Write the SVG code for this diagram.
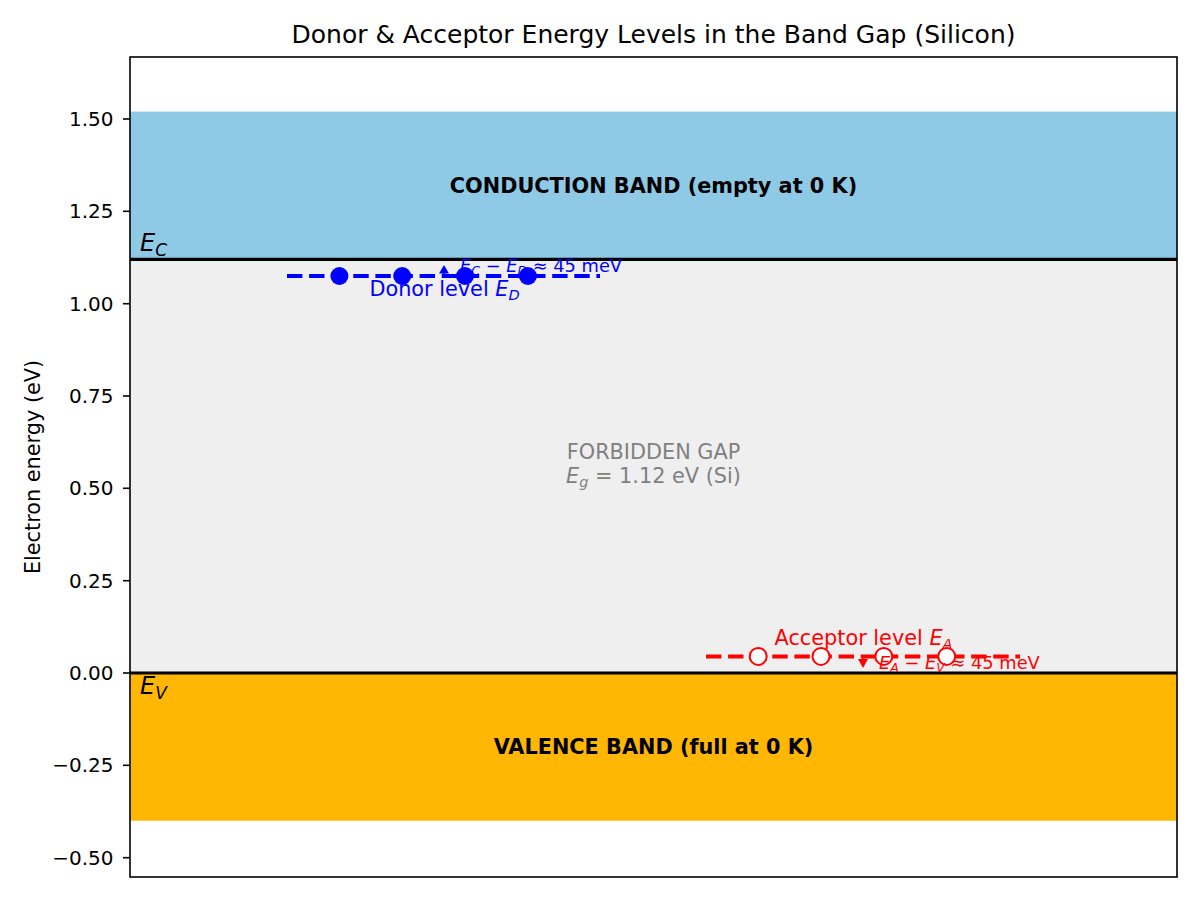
<svg xmlns="http://www.w3.org/2000/svg" width="1200" height="900" viewBox="0 0 1200 900">
<style>
text{font-family:"DejaVu Sans","Liberation Sans",sans-serif;}
.tick{font-size:20px;fill:#000;text-anchor:end;}
.band{font-size:20.8px;font-weight:bold;text-anchor:middle;fill:#000;}
.it{font-style:italic;}
.blue{fill:#0000ff;}
.red{fill:#ff0000;}
.ann{font-size:17.8px;}
.lbl{font-size:20.8px;}
</style>
<defs>
<clipPath id="ax"><rect x="130" y="57" width="1047" height="820"/></clipPath>
</defs>
<rect width="1200" height="900" fill="#fff"/>
<g id="bands" clip-path="url(#ax)">
<rect x="130" y="111.6" width="1047" height="147.7" fill="#8ecae6"/>
<rect x="130" y="259.3" width="1047" height="413.7" fill="#efefef"/>
<rect x="130" y="673" width="1047" height="147.7" fill="#ffb703"/>
<line x1="130" y1="259.3" x2="1177" y2="259.3" stroke="#000" stroke-width="3.2"/>
<line x1="130" y1="673" x2="1177" y2="673" stroke="#000" stroke-width="3.2"/>
</g>
<g id="axes">
<rect x="130" y="57" width="1047" height="820" fill="none" stroke="#000" stroke-width="1.6"/>
<g stroke="#000" stroke-width="1.6">
<line x1="123" y1="119" x2="130" y2="119"/>
<line x1="123" y1="211.3" x2="130" y2="211.3"/>
<line x1="123" y1="303.7" x2="130" y2="303.7"/>
<line x1="123" y1="396" x2="130" y2="396"/>
<line x1="123" y1="488.3" x2="130" y2="488.3"/>
<line x1="123" y1="580.7" x2="130" y2="580.7"/>
<line x1="123" y1="673" x2="130" y2="673"/>
<line x1="123" y1="765.3" x2="130" y2="765.3"/>
<line x1="123" y1="857.7" x2="130" y2="857.7"/>
</g>
<text class="tick" x="113.5" y="126">1.50</text>
<text class="tick" x="113.5" y="218.3">1.25</text>
<text class="tick" x="113.5" y="310.7">1.00</text>
<text class="tick" x="113.5" y="403">0.75</text>
<text class="tick" x="113.5" y="495.3">0.50</text>
<text class="tick" x="113.5" y="587.7">0.25</text>
<text class="tick" x="113.5" y="680">0.00</text>
<text class="tick" x="113.5" y="772.3">−0.25</text>
<text class="tick" x="113.5" y="864.7">−0.50</text>
<text x="40" y="467" transform="rotate(-90 40 467)" font-size="20.8" text-anchor="middle">Electron energy (eV)</text>
<text x="653.5" y="43" font-size="25" text-anchor="middle">Donor &amp; Acceptor Energy Levels in the Band Gap (Silicon)</text>
</g>
<g id="band-labels">
<text class="band" x="653.5" y="193">CONDUCTION BAND (empty at 0 K)</text>
<text class="band" x="653.5" y="754">VALENCE BAND (full at 0 K)</text>
<text x="140" y="251" font-size="24"><tspan class="it">E</tspan><tspan class="it" font-size="17" dy="5">C</tspan></text>
<text x="140" y="694" font-size="24"><tspan class="it">E</tspan><tspan class="it" font-size="17" dy="5">V</tspan></text>
<text x="653.5" y="459" font-size="20.8" fill="#808080" text-anchor="middle">FORBIDDEN GAP</text>
<text x="653.5" y="483" font-size="20.8" fill="#808080" text-anchor="middle"><tspan class="it">E</tspan><tspan class="it" font-size="14.5" dy="4">g</tspan><tspan dy="-4"> = 1.12 eV (Si)</tspan></text>
</g>
<g id="donor">
<line x1="287" y1="276" x2="600" y2="276" stroke="#0000ff" stroke-width="4" stroke-dasharray="15.4 6.7"/>
<circle cx="339.4" cy="276" r="9" fill="#0000ff"/>
<circle cx="402.2" cy="276" r="9" fill="#0000ff"/>
<circle cx="465" cy="276" r="9" fill="#0000ff"/>
<circle cx="527.9" cy="276" r="9" fill="#0000ff"/>
<text class="lbl blue" x="444.5" y="296" text-anchor="middle">Donor level <tspan class="it">E</tspan><tspan class="it" font-size="14.5" dy="4">D</tspan></text>
<text class="ann blue" x="460" y="272"><tspan class="it">E</tspan><tspan class="it" font-size="12.5" dy="3">C</tspan><tspan dy="-3"> − </tspan><tspan class="it">E</tspan><tspan class="it" font-size="12.5" dy="3">D</tspan><tspan dy="-3"> ≈ 45 meV</tspan></text>
</g>
<g id="acceptor">
<line x1="706" y1="656.4" x2="1020" y2="656.4" stroke="#ff0000" stroke-width="4" stroke-dasharray="15.4 6.7"/>
<circle cx="758.2" cy="656.4" r="8.5" fill="#fff" stroke="#ff0000" stroke-width="2"/>
<circle cx="821" cy="656.4" r="8.5" fill="#fff" stroke="#ff0000" stroke-width="2"/>
<circle cx="883.8" cy="656.4" r="8.5" fill="#fff" stroke="#ff0000" stroke-width="2"/>
<circle cx="946.7" cy="656.4" r="8.5" fill="#fff" stroke="#ff0000" stroke-width="2"/>
<text class="lbl red" x="863.5" y="645" text-anchor="middle">Acceptor level <tspan class="it">E</tspan><tspan class="it" font-size="14.5" dy="4">A</tspan></text>
<text class="ann red" x="879" y="669"><tspan class="it">E</tspan><tspan class="it" font-size="12.5" dy="3">A</tspan><tspan dy="-3"> − </tspan><tspan class="it">E</tspan><tspan class="it" font-size="12.5" dy="3">V</tspan><tspan dy="-3"> ≈ 45 meV</tspan></text>
</g>
<g id="connectors">
<line x1="444" y1="276" x2="444" y2="270" stroke="#0000ff" stroke-width="1.6"/>
<polygon points="444,265 439,273.5 449,273.5" fill="#0000ff"/>
<line x1="863" y1="656.4" x2="863" y2="662" stroke="#ff0000" stroke-width="1.6"/>
<polygon points="863,668 858,659 868,659" fill="#ff0000"/>
</g>
</svg>
